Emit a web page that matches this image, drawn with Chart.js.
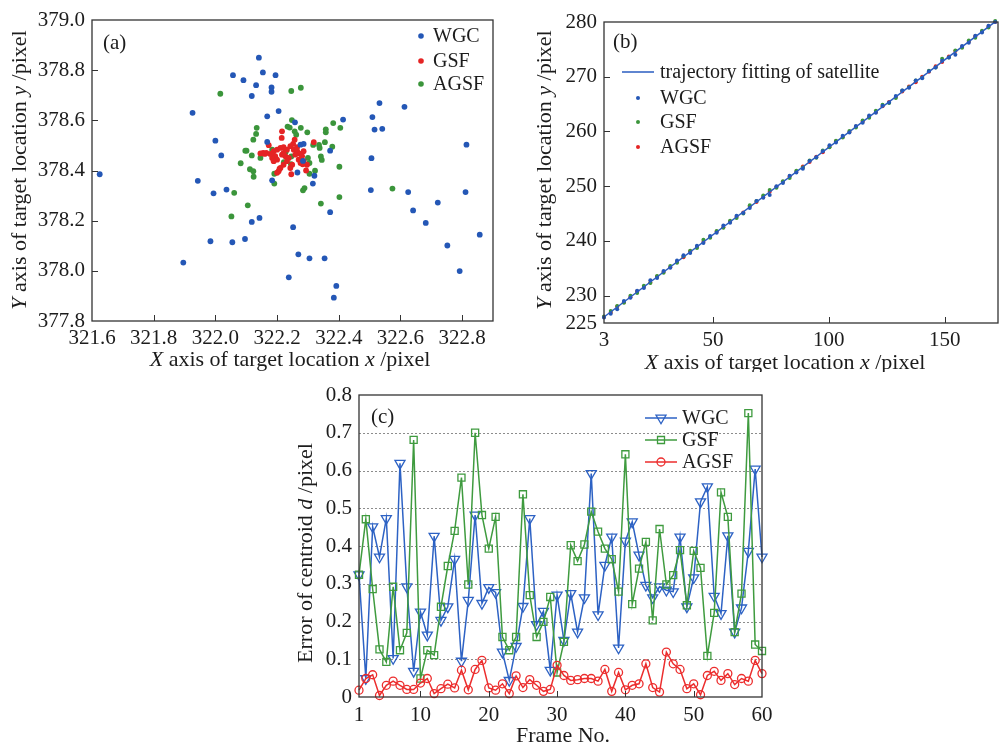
<!DOCTYPE html>
<html>
<head>
<meta charset="utf-8">
<script src="https://cdn.jsdelivr.net/npm/chart.js@4.4.1/dist/chart.umd.min.js"></script>
<style>
html, body { margin: 0; padding: 0; background: #fff; }
#wrap { position: relative; width: 1002px; height: 745px; overflow: hidden; }
canvas { position: absolute; }
</style>
</head>
<body>
<div id="wrap">
<canvas id="chartA" width="500" height="372" style="left:0;top:0"></canvas>
<canvas id="chartB" width="502" height="372" style="left:500px;top:0"></canvas>
<canvas id="chartC" width="500" height="373" style="left:280px;top:372px"></canvas>
</div>
<script>
// (a) target location of the star, one point per frame
const wgcAx = [321.625, 322.141, 322.057, 322.091, 322.154, 322.195, 322.132, 322.182, 322.182, 322.118, 321.926, 322.205, 322.168, 322.258, 322.414, 322.509, 322.532, 322.613, 322.516, 322.541, 322.000, 322.019, 322.168, 322.286, 322.372, 322.814, 322.506, 322.284, 322.266, 322.321, 322.316, 321.943, 322.036, 321.994, 322.504, 322.625, 322.811, 322.641, 322.721, 322.372, 322.118, 322.143, 322.682, 322.252, 322.857, 321.984, 322.055, 322.096, 322.752, 322.269, 322.305, 322.354, 321.896, 322.792, 322.238, 322.392, 322.384, 322.276, 322.184];
const wgcAy = [378.385, 378.850, 378.780, 378.760, 378.791, 378.780, 378.740, 378.731, 378.714, 378.697, 378.630, 378.637, 378.616, 378.592, 378.603, 378.613, 378.669, 378.654, 378.563, 378.566, 378.519, 378.460, 378.514, 378.506, 378.479, 378.503, 378.449, 378.438, 378.392, 378.379, 378.348, 378.359, 378.324, 378.309, 378.322, 378.314, 378.314, 378.241, 378.272, 378.234, 378.195, 378.211, 378.191, 378.174, 378.144, 378.118, 378.114, 378.127, 378.101, 378.066, 378.050, 378.050, 378.033, 377.999, 377.974, 377.940, 377.893, 378.503, 378.361];
const gsfAx = [322.216, 322.215, 322.173, 322.155, 322.165, 322.189, 322.200, 322.211, 322.221, 322.232, 322.243, 322.252, 322.257, 322.254, 322.265, 322.276, 322.281, 322.270, 322.286, 322.297, 322.249, 322.221, 322.211, 322.205, 322.216, 322.227, 322.238, 322.194, 322.184, 322.178, 322.232, 322.243, 322.259, 322.319, 322.265, 322.286, 322.276, 322.200, 322.189, 322.221, 322.294, 322.246, 322.200, 322.208, 322.146, 322.160, 322.283];
const gsfAy = [378.556, 378.530, 378.501, 378.470, 378.470, 378.477, 378.483, 378.490, 378.493, 378.483, 378.497, 378.506, 378.523, 378.483, 378.477, 378.466, 378.457, 378.443, 378.437, 378.423, 378.423, 378.423, 378.410, 378.397, 378.463, 378.457, 378.450, 378.457, 378.450, 378.466, 378.437, 378.410, 378.463, 378.513, 378.493, 378.477, 378.430, 378.443, 378.437, 378.470, 378.400, 378.385, 378.391, 378.407, 378.468, 378.466, 378.425];
const agsfAx = [322.016, 322.246, 322.277, 322.248, 322.234, 322.241, 322.257, 322.262, 322.277, 322.298, 322.134, 322.132, 322.123, 322.382, 322.405, 322.358, 322.358, 322.379, 322.355, 322.336, 322.338, 322.317, 322.184, 322.097, 322.101, 322.118, 322.146, 322.082, 322.112, 322.123, 322.124, 322.191, 322.191, 322.222, 322.245, 322.246, 322.300, 322.305, 322.305, 322.323, 322.342, 322.345, 322.402, 322.284, 322.289, 322.342, 322.402, 322.574, 322.061, 322.105, 322.052, 322.228, 322.269];
const agsfAy = [378.706, 378.717, 378.730, 378.601, 378.575, 378.571, 378.556, 378.543, 378.570, 378.552, 378.570, 378.546, 378.523, 378.589, 378.570, 378.564, 378.552, 378.495, 378.513, 378.502, 378.490, 378.502, 378.483, 378.479, 378.479, 378.460, 378.450, 378.429, 378.405, 378.397, 378.375, 378.387, 378.348, 378.433, 378.425, 378.456, 378.450, 378.430, 378.387, 378.399, 378.456, 378.442, 378.415, 378.321, 378.330, 378.268, 378.294, 378.328, 378.311, 378.261, 378.217, 378.475, 378.469];
const ticksAx = [321.6, 321.8, 322.0, 322.2, 322.4, 322.6, 322.8];
const ticksAy = [377.8, 378.0, 378.2, 378.4, 378.6, 378.8, 379.0];

// (b) trajectory of the moving target
const fitBx = [3, 172];
const fitBy = [226.1, 280.1];
const frameBx = [3.0, 5.9, 8.7, 11.6, 14.4, 17.3, 20.2, 23.0, 25.9, 28.7, 31.6, 34.5, 37.3, 40.2, 43.1, 45.9, 48.8, 51.6, 54.5, 57.4, 60.2, 63.1, 65.9, 68.8, 71.7, 74.5, 77.4, 80.2, 83.1, 86.0, 88.8, 91.7, 94.6, 97.4, 100.3, 103.1, 106.0, 108.9, 111.7, 114.6, 117.4, 120.3, 123.2, 126.0, 128.9, 131.7, 134.6, 137.5, 140.3, 143.2, 146.1, 148.9, 151.8, 154.6, 157.5, 160.4, 163.2, 166.1, 168.9, 171.8];
const wgcBy = [226.0, 226.7, 227.5, 229.0, 229.6, 230.9, 231.4, 232.8, 233.2, 234.5, 235.1, 236.4, 237.4, 237.8, 239.1, 239.6, 240.9, 241.5, 242.8, 243.3, 244.6, 245.1, 246.0, 247.3, 247.9, 248.4, 250.0, 250.6, 251.9, 252.5, 253.2, 254.6, 255.3, 256.4, 257.5, 258.0, 259.2, 259.8, 261.0, 261.6, 262.9, 263.4, 264.7, 265.3, 266.5, 267.5, 268.0, 269.3, 269.7, 271.0, 271.7, 272.9, 273.5, 274.0, 275.6, 276.2, 277.5, 278.1, 279.3, 280.0];
const gsfBy = [226.2, 227.2, 228.1, 228.7, 230.0, 230.5, 231.8, 232.3, 233.6, 234.2, 235.4, 236.0, 237.2, 238.2, 238.7, 240.2, 240.6, 241.8, 242.4, 243.7, 244.2, 245.0, 246.5, 247.3, 248.3, 249.3, 249.7, 250.9, 251.5, 252.8, 253.4, 254.7, 255.2, 256.5, 257.1, 258.3, 258.9, 260.1, 260.7, 262.0, 262.5, 263.8, 264.9, 265.2, 266.1, 267.5, 268.1, 269.3, 269.8, 271.1, 271.7, 273.3, 273.5, 274.8, 275.3, 276.6, 277.1, 278.4, 279.0, 280.2];
const agsfBy = [226.1, 226.9, 228.0, 228.8, 229.7, 230.8, 231.6, 232.4, 233.5, 234.3, 235.2, 236.2, 237.0, 238.1, 238.9, 239.8, 240.7, 241.7, 242.5, 243.5, 244.4, 245.2, 246.3, 247.1, 248.0, 249.0, 249.9, 250.8, 251.8, 252.6, 253.6, 254.4, 255.4, 256.2, 257.2, 258.2, 259.0, 259.9, 260.9, 261.8, 262.7, 263.5, 264.6, 265.4, 266.3, 267.3, 268.2, 269.0, 270.0, 270.9, 271.9, 272.7, 273.7, 274.7, 275.5, 276.4, 277.4, 278.2, 279.2, 280.0];
const ticksBx = [3, 50, 100, 150];
const ticksBy = [225, 230, 240, 250, 260, 270, 280];

// (c) centroid error per frame
const frames = [1, 2, 3, 4, 5, 6, 7, 8, 9, 10, 11, 12, 13, 14, 15, 16, 17, 18, 19, 20, 21, 22, 23, 24, 25, 26, 27, 28, 29, 30, 31, 32, 33, 34, 35, 36, 37, 38, 39, 40, 41, 42, 43, 44, 45, 46, 47, 48, 49, 50, 51, 52, 53, 54, 55, 56, 57, 58, 59, 60];
const wgcErr = [0.324, 0.049, 0.451, 0.371, 0.473, 0.102, 0.619, 0.292, 0.068, 0.225, 0.164, 0.426, 0.203, 0.239, 0.365, 0.095, 0.256, 0.482, 0.248, 0.290, 0.277, 0.119, 0.044, 0.134, 0.240, 0.473, 0.192, 0.227, 0.071, 0.270, 0.150, 0.274, 0.172, 0.263, 0.592, 0.218, 0.349, 0.424, 0.130, 0.413, 0.464, 0.376, 0.296, 0.263, 0.292, 0.283, 0.279, 0.424, 0.239, 0.316, 0.517, 0.557, 0.267, 0.221, 0.427, 0.172, 0.236, 0.386, 0.604, 0.371];
const gsfErr = [0.324, 0.471, 0.286, 0.126, 0.093, 0.292, 0.124, 0.170, 0.681, 0.049, 0.124, 0.111, 0.239, 0.347, 0.440, 0.581, 0.298, 0.700, 0.482, 0.393, 0.477, 0.159, 0.124, 0.159, 0.537, 0.270, 0.159, 0.199, 0.265, 0.065, 0.146, 0.402, 0.360, 0.404, 0.491, 0.438, 0.393, 0.365, 0.279, 0.643, 0.246, 0.340, 0.411, 0.203, 0.445, 0.298, 0.323, 0.389, 0.243, 0.387, 0.342, 0.109, 0.223, 0.542, 0.477, 0.172, 0.274, 0.752, 0.139, 0.122];
const agsfErr = [0.018, 0.049, 0.059, 0.004, 0.031, 0.042, 0.031, 0.020, 0.020, 0.037, 0.049, 0.009, 0.022, 0.034, 0.024, 0.071, 0.019, 0.073, 0.097, 0.024, 0.018, 0.035, 0.009, 0.056, 0.025, 0.046, 0.031, 0.015, 0.020, 0.084, 0.057, 0.044, 0.046, 0.049, 0.049, 0.042, 0.073, 0.015, 0.065, 0.019, 0.031, 0.035, 0.088, 0.025, 0.013, 0.119, 0.088, 0.073, 0.022, 0.035, 0.006, 0.057, 0.068, 0.044, 0.062, 0.033, 0.049, 0.042, 0.097, 0.062];
const ticksCx = [1, 10, 20, 30, 40, 50, 60];
const ticksCy = [0, 0.1, 0.2, 0.3, 0.4, 0.5, 0.6, 0.7, 0.8];


const SERIF = '"Liberation Serif", "Times New Roman", serif';
const INK = '#1c1c1c';
const BLUE = '#2457b6', RED = '#e52424', GREEN = '#3b953b';
const BLUE_C = '#2d62c4', GREEN_C = '#3f9b3f', RED_C = '#ec2d2d';

const pts = (xs, ys) => xs.map((x, i) => ({ x: x, y: ys[i] }));
const fixTicks = vals => scale => { scale.ticks = vals.map(v => ({ value: v })); };

function richText(ctx, parts, x, y, rot, size) {
    ctx.save();
    ctx.translate(x, y);
    ctx.rotate(rot);
    const fonts = parts.map(p => (p[1] ? 'italic ' : '') + size + 'px ' + SERIF);
    let total = 0;
    parts.forEach((p, i) => { ctx.font = fonts[i]; total += ctx.measureText(p[0]).width; });
    let cx = -total / 2;
    ctx.textAlign = 'left';
    ctx.textBaseline = 'middle';
    ctx.fillStyle = INK;
    parts.forEach((p, i) => {
        ctx.font = fonts[i];
        ctx.fillText(p[0], cx, 0);
        cx += ctx.measureText(p[0]).width;
    });
    ctx.restore();
}

function mark(ctx, kind, x, y, color) {
    ctx.save();
    ctx.strokeStyle = color;
    ctx.fillStyle = color;
    ctx.lineWidth = 1.3;
    ctx.beginPath();
    if (kind === 'dot') {
        ctx.arc(x, y, 2.8, 0, Math.PI * 2);
        ctx.fill();
    } else if (kind === 'small') {
        ctx.arc(x, y, 2, 0, Math.PI * 2);
        ctx.fill();
    } else if (kind === 'tri') {
        const r = 5.8;
        ctx.moveTo(x, y + r);
        ctx.lineTo(x - r * 0.866, y - r / 2);
        ctx.lineTo(x + r * 0.866, y - r / 2);
        ctx.closePath();
        ctx.stroke();
    } else if (kind === 'sq') {
        ctx.rect(x - 3.5, y - 3.5, 7, 7);
        ctx.stroke();
    } else if (kind === 'circ') {
        ctx.arc(x, y, 4, 0, Math.PI * 2);
        ctx.stroke();
    }
    ctx.restore();
}

const decor = {
    id: 'decor',
    beforeDatasetsDraw(chart, args, o) {
        if (!o.grid) return;
        const { ctx, chartArea: a } = chart;
        const sy = chart.scales.y;
        ctx.save();
        ctx.strokeStyle = '#8c8c8c';
        ctx.lineWidth = 1;
        ctx.setLineDash([2, 2]);
        o.grid.forEach(v => {
            const py = Math.round(sy.getPixelForValue(v)) + 0.5;
            ctx.beginPath();
            ctx.moveTo(a.left, py);
            ctx.lineTo(a.right, py);
            ctx.stroke();
        });
        ctx.restore();
    },
    afterDraw(chart, args, o) {
        const { ctx, chartArea: a } = chart;
        const sx = chart.scales.x, sy = chart.scales.y;
        ctx.save();
        ctx.strokeStyle = '#333';
        ctx.lineWidth = 1.3;
        ctx.strokeRect(a.left, a.top, a.right - a.left, a.bottom - a.top);
        ctx.lineWidth = 1;
        o.xTicks.forEach(v => {
            const px = Math.round(sx.getPixelForValue(v)) + 0.5;
            ctx.beginPath();
            ctx.moveTo(px, a.bottom);
            ctx.lineTo(px, a.bottom - 6);
            ctx.stroke();
        });
        o.yTicks.forEach(v => {
            const py = Math.round(sy.getPixelForValue(v)) + 0.5;
            ctx.beginPath();
            ctx.moveTo(a.left, py);
            ctx.lineTo(a.left + 6, py);
            ctx.stroke();
        });
        richText(ctx, o.xTitle.parts, o.xTitle.x, o.xTitle.y, 0, o.titleSize);
        richText(ctx, o.yTitle.parts, o.yTitle.x, o.yTitle.y, -Math.PI / 2, o.titleSize);

        ctx.fillStyle = INK;
        ctx.textAlign = 'left';
        ctx.textBaseline = 'middle';
        ctx.font = '21px ' + SERIF;
        ctx.fillText(o.tag[0], o.tag[1], o.tag[2]);

        ctx.font = '20px ' + SERIF;
        o.legend.forEach(it => {
            if (it.line) {
                ctx.save();
                ctx.strokeStyle = it.color;
                ctx.lineWidth = 1.5;
                ctx.beginPath();
                ctx.moveTo(it.line[0], it.y);
                ctx.lineTo(it.line[1], it.y);
                ctx.stroke();
                ctx.restore();
            }
            if (it.kind) mark(ctx, it.kind, it.mx, it.y, it.color);
            ctx.fillStyle = INK;
            ctx.fillText(it.text, it.tx, it.y + 1);
        });
        ctx.restore();
    }
};

function axes(o) {
    const tickFont = { family: SERIF, size: 21 };
    return {
        x: {
            type: 'linear', min: o.xMin, max: o.xMax,
            grid: { display: false, drawTicks: false },
            border: { display: false },
            afterBuildTicks: fixTicks(o.xTicks),
            afterFit: scale => { scale.height = o.xH; },
            ticks: { font: tickFont, color: INK, padding: o.xPad, maxRotation: 0, autoSkip: false, callback: o.xFmt }
        },
        y: {
            type: 'linear', min: o.yMin, max: o.yMax,
            grid: { display: false, drawTicks: false },
            border: { display: false },
            afterBuildTicks: fixTicks(o.yTicks),
            afterFit: scale => { scale.width = o.yW; },
            ticks: { font: tickFont, color: INK, padding: 7, autoSkip: false, callback: o.yFmt }
        }
    };
}

const baseOpts = {
    responsive: false,
    maintainAspectRatio: false,
    animation: false,
    events: []
};

// ---------- (a)
new Chart(document.getElementById('chartA'), {
    type: 'scatter',
    data: {
        datasets: [
            { data: pts(wgcAx, wgcAy), backgroundColor: BLUE, borderWidth: 0, pointRadius: 2.9 },
            { data: pts(gsfAx, gsfAy), backgroundColor: RED, borderWidth: 0, pointRadius: 2.9 },
            { data: pts(agsfAx, agsfAy), backgroundColor: GREEN, borderWidth: 0, pointRadius: 2.9 }
        ]
    },
    options: Object.assign({}, baseOpts, {
        layout: { padding: { top: 20, right: 7, left: 0, bottom: 0 } },
        scales: axes({
            xMin: 321.6, xMax: 322.9, xTicks: ticksAx, xH: 51, xPad: 5, xFmt: v => v.toFixed(1),
            yMin: 377.8, yMax: 379.0, yTicks: ticksAy, yW: 92, yFmt: v => v.toFixed(1)
        }),
        plugins: {
            legend: { display: false },
            tooltip: { enabled: false },
            decor: {
                xTicks: ticksAx.slice(1), yTicks: ticksAy.slice(1, -1), titleSize: 22,
                xTitle: { x: 290, y: 360, parts: [['X', true], [' axis of target location '], ['x', true], [' /pixel']] },
                yTitle: { x: 20, y: 170, parts: [['Y', true], [' axis of target location '], ['y', true], [' /pixel']] },
                tag: ['(a)', 103, 43],
                legend: [
                    { text: 'WGC', color: BLUE, kind: 'dot', mx: 421, tx: 433, y: 36 },
                    { text: 'GSF', color: RED, kind: 'dot', mx: 421, tx: 433, y: 61 },
                    { text: 'AGSF', color: GREEN, kind: 'dot', mx: 421, tx: 433, y: 84 }
                ]
            }
        }
    }),
    plugins: [decor]
});

// ---------- (b)
new Chart(document.getElementById('chartB'), {
    type: 'scatter',
    data: {
        datasets: [
            { data: pts(fitBx, fitBy), showLine: true, borderColor: '#2a5cc0', borderWidth: 1.5, pointRadius: 0, clip: false },
            { data: pts(frameBx, wgcBy), backgroundColor: BLUE, borderWidth: 0, pointRadius: 2, clip: false },
            { data: pts(frameBx, gsfBy), backgroundColor: GREEN, borderWidth: 0, pointRadius: 2, clip: false },
            { data: pts(frameBx, agsfBy), backgroundColor: RED, borderWidth: 0, pointRadius: 2, clip: false }
        ]
    },
    options: Object.assign({}, baseOpts, {
        layout: { padding: { top: 22, right: 0, left: 0, bottom: 0 } },
        scales: axes({
            xMin: 3, xMax: 173, xTicks: ticksBx, xH: 49, xPad: 5, xFmt: v => String(v),
            yMin: 225, yMax: 280, yTicks: ticksBy, yW: 104, yFmt: v => String(v)
        }),
        plugins: {
            legend: { display: false },
            tooltip: { enabled: false },
            decor: {
                xTicks: ticksBx.slice(1), yTicks: ticksBy.slice(1, -1), titleSize: 22,
                xTitle: { x: 285, y: 363, parts: [['X', true], [' axis of target location '], ['x', true], [' /pixel']] },
                yTitle: { x: 45, y: 170, parts: [['Y', true], [' axis of target location '], ['y', true], [' /pixel']] },
                tag: ['(b)', 113, 42],
                legend: [
                    { text: 'trajectory fitting of satellite', color: '#2a5cc0', line: [122, 154], tx: 160, y: 72 },
                    { text: 'WGC', color: BLUE, kind: 'small', mx: 138, tx: 160, y: 98 },
                    { text: 'GSF', color: GREEN, kind: 'small', mx: 138, tx: 160, y: 122 },
                    { text: 'AGSF', color: RED, kind: 'small', mx: 138, tx: 160, y: 147 }
                ]
            }
        }
    }),
    plugins: [decor]
});

// ---------- (c)
const lineSet = (ys, color, style, radius, rot) => ({
    type: 'line',
    data: pts(frames, ys),
    borderColor: color,
    borderWidth: 1.5,
    tension: 0,
    pointStyle: style,
    pointRadius: radius,
    pointRotation: rot,
    pointBorderColor: color,
    pointBackgroundColor: 'rgba(255,255,255,0)',
    pointBorderWidth: 1.3,
    clip: false
});

new Chart(document.getElementById('chartC'), {
    type: 'line',
    data: {
        datasets: [
            lineSet(agsfErr, RED_C, 'circle', 4, 0),
            lineSet(gsfErr, GREEN_C, 'rect', 5, 0),
            lineSet(wgcErr, BLUE_C, 'triangle', 5.8, 180)
        ]
    },
    options: Object.assign({}, baseOpts, {
        layout: { padding: { top: 23, right: 18, left: 0, bottom: 0 } },
        scales: axes({
            xMin: 1, xMax: 60, xTicks: ticksCx, xH: 48, xPad: 6, xFmt: v => String(v),
            yMin: 0, yMax: 0.8, yTicks: ticksCy, yW: 79, yFmt: v => (v === 0 ? '0' : v.toFixed(1))
        }),
        plugins: {
            legend: { display: false },
            tooltip: { enabled: false },
            decor: {
                grid: ticksCy.slice(1, -1),
                xTicks: ticksCx.slice(1, -1), yTicks: [], titleSize: 22,
                xTitle: { x: 283, y: 364, parts: [['Frame No.']] },
                yTitle: { x: 26, y: 181, parts: [['Error of centroid '], ['d', true], [' /pixel']] },
                tag: ['(c)', 91, 45],
                legend: [
                    { text: 'WGC', color: BLUE_C, line: [365, 397], kind: 'tri', mx: 381, tx: 402, y: 46 },
                    { text: 'GSF', color: GREEN_C, line: [365, 397], kind: 'sq', mx: 381, tx: 402, y: 68 },
                    { text: 'AGSF', color: RED_C, line: [365, 397], kind: 'circ', mx: 381, tx: 402, y: 90 }
                ]
            }
        }
    }),
    plugins: [decor]
});
</script>
</body>
</html>
